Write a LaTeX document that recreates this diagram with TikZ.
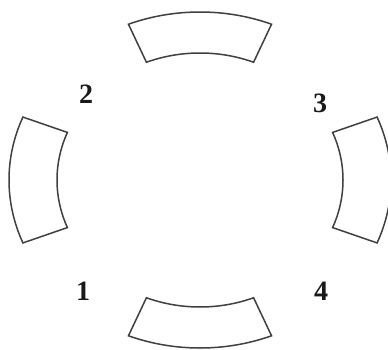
\documentclass[tikz,border=0pt]{standalone}
\usepackage{fontspec}
\setmainfont{Liberation Serif}
\begin{document}
\begin{tikzpicture}[x=1pt,y=1pt,
  sector/.style={draw=black!75, line width=1.5pt, line join=miter},
  lbl/.style={font=\fontsize{28}{28}\selectfont\bfseries, text=black!90, inner sep=0pt}]
\useasboundingbox[fill=white] (0,0) rectangle (388,349);
\begin{scope}[shift={(200,169)}]
  \foreach \m in {90,0,270,180}{
    \draw[sector] (\m-22:191pt and 168pt)
      arc[start angle=\m-22, end angle=\m+22, x radius=191pt, y radius=168pt]
      -- (\m+22:143pt and 127pt)
      arc[start angle=\m+22, end angle=\m-22, x radius=143pt, y radius=127pt]
      -- cycle;
  }
\end{scope}
\node[lbl] (n2) at (86,255) {2};
\node[lbl] (n3) at (320,246) {3};
\node[lbl] (n1) at (83,58) {1};
\node[lbl] (n4) at (321,58) {4};
\end{tikzpicture}
\end{document}
